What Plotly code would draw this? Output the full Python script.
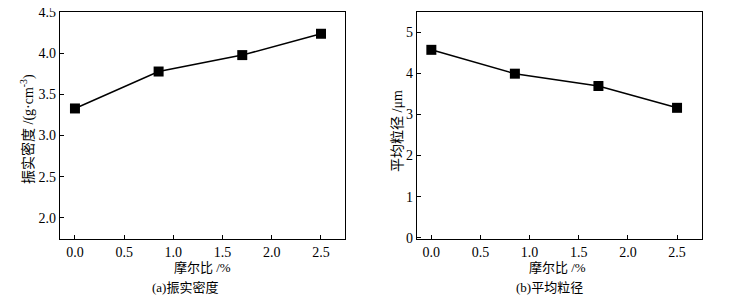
import plotly.graph_objects as go

molar_ratio = [0.0, 0.85, 1.7, 2.5]
tap_density = [3.33, 3.78, 3.98, 4.24]
mean_size = [4.57, 3.99, 3.69, 3.16]

x_ticks = [0.0, 0.5, 1.0, 1.5, 2.0, 2.5]
x_ticklabels = ["0.0", "0.5", "1.0", "1.5", "2.0", "2.5"]
y1_ticks = [2.0, 2.5, 3.0, 3.5, 4.0, 4.5]
y1_ticklabels = ["2.0", "2.5", "3.0", "3.5", "4.0", "4.5"]
y2_ticks = [0, 1, 2, 3, 4, 5]

x_title = "摩尔比 /%"
y1_title = "振实密度 /(g·cm<sup>-3</sup>)"
y2_title = "平均粒径 /μm"
cap_a = "(a)振实密度"
cap_b = "(b)平均粒径"

# page body has an 8px default margin; size the figure to fit the window
OFF = 8
W, H = 745 - OFF, 297 - OFF
serif = "Liberation Serif"
mixed = "Liberation Serif, Noto Sans CJK SC"

fig = go.Figure()
line = dict(color="black", width=1.5)
marker = dict(symbol="square", size=10, color="black")
fig.add_trace(go.Scatter(x=molar_ratio, y=tap_density, mode="lines+markers",
                         line=line, marker=marker, xaxis="x", yaxis="y", showlegend=False))
fig.add_trace(go.Scatter(x=molar_ratio, y=mean_size, mode="lines+markers",
                         line=line, marker=marker, xaxis="x2", yaxis="y2", showlegend=False))

def px(v):
    return (v - OFF) / W

def py(v):
    return 1 - (v - OFF) / H

ydom = [py(239), py(12)]
axcommon = dict(showline=True, linecolor="black", linewidth=1.2, mirror=True,
                ticks="inside", ticklen=4, tickcolor="black", showgrid=False,
                zeroline=False, automargin=False, ticklabeloverflow="allow",
                tickfont=dict(family=serif, size=14, color="black"))

fig.update_layout(
    width=W, height=H, margin=dict(l=0, r=0, t=0, b=0, pad=0, autoexpand=False),
    paper_bgcolor="white", plot_bgcolor="white",
    xaxis=dict(domain=[px(60), px(345)], range=[-0.152, 2.744], tickvals=x_ticks,
               ticktext=x_ticklabels, anchor="y", **axcommon),
    yaxis=dict(domain=ydom, range=[1.74, 4.505], tickvals=y1_ticks,
               ticktext=y1_ticklabels, anchor="x", **axcommon),
    xaxis2=dict(domain=[px(417), px(702)], range=[-0.146, 2.754], tickvals=x_ticks,
                ticktext=x_ticklabels, anchor="y2", **axcommon),
    yaxis2=dict(domain=ydom, range=[-0.03, 5.49], tickvals=y2_ticks, anchor="x2", **axcommon),
)

ann = []
def add(text, x, y, size=13, angle=0, family=mixed):
    ann.append(dict(text=text, x=px(x), y=py(y), xref="paper", yref="paper",
                    showarrow=False, textangle=angle, xanchor="center", yanchor="middle",
                    font=dict(family=family, size=size, color="black")))

add(x_title, 202, 267)
add(x_title, 557, 267)
add(cap_a, 185, 287)
add(cap_b, 549, 287)
add(y1_title, 27, 129, size=14, angle=-90)
add(y2_title, 397, 131, size=14, angle=-90)
fig.update_layout(annotations=ann)

fig.write_html("out.html")
